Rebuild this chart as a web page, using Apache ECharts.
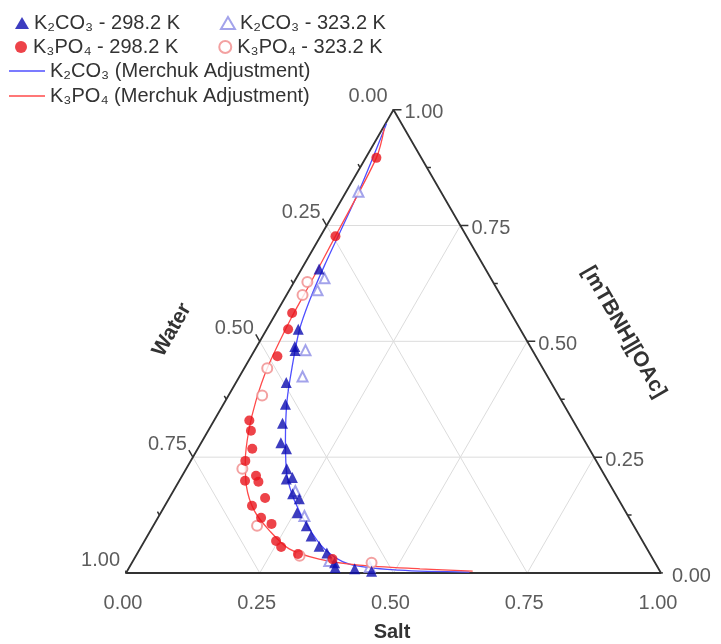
<!DOCTYPE html>
<html><head><meta charset="utf-8">
<script src="https://cdn.jsdelivr.net/npm/echarts@6/dist/echarts.min.js"></script>
<style>html,body{margin:0;padding:0;background:#fff}#c{width:721px;height:644px}</style>
</head><body><div id="c"></div>
<script>
// tick values and labels (shared by all three axes)
const tickValues = [0, 0.25, 0.5, 0.75, 1];
const tickLabels = ['0.00', '0.25', '0.50', '0.75', '1.00'];
const minorTicks = [0.125, 0.375, 0.625, 0.875];
const gridValues = [0.25, 0.5, 0.75];
const axisNames = ['Salt', '[mTBNH][OAc]', 'Water'];
const seriesNames = ['K₂CO₃ - 298.2 K', 'K₂CO₃ - 323.2 K', 'K₃PO₄ - 298.2 K', 'K₃PO₄ - 323.2 K',
  'K₂CO₃ (Merchuk Adjustment)', 'K₃PO₄ (Merchuk Adjustment)'];

// compositions as [salt mass fraction, IL mass fraction]; water = 1 - salt - IL
const k2co3_298 = [[0.033,0.656],[0.059,0.526],[0.071,0.489],[0.076,0.480],[0.094,0.411],[0.116,0.364],[0.131,0.323],[0.149,0.281],[0.166,0.268],[0.188,0.225],[0.198,0.203],[0.208,0.206],[0.226,0.171],[0.244,0.160],[0.255,0.130],[0.286,0.102],[0.306,0.080],[0.332,0.058],[0.354,0.043],[0.379,0.022],[0.385,0.012],[0.423,0.009],[0.457,0.004]];
const k2co3_323 = [[0.023,0.823],[0.053,0.636],[0.053,0.610],[0.095,0.481],[0.118,0.424],[0.228,0.177],[0.272,0.123],[0.367,0.026],[0.449,0.013]];
const k3po4_298 = [[0.020,0.896],[0.028,0.727],[0.030,0.561],[0.040,0.526],[0.049,0.468],[0.066,0.329],[0.080,0.307],[0.102,0.268],[0.102,0.242],[0.138,0.210],[0.123,0.199],[0.149,0.197],[0.179,0.162],[0.163,0.145],[0.193,0.119],[0.219,0.106],[0.246,0.069],[0.262,0.056],[0.301,0.041],[0.371,0.030]];
const k3po4_323 = [[0.025,0.628],[0.030,0.600],[0.043,0.442],[0.063,0.383],[0.105,0.225],[0.194,0.102],[0.306,0.037],[0.448,0.022]];
const k2co3_fit = [[0.002,0.970],[0.023,0.827],[0.039,0.665],[0.049,0.589],[0.062,0.524],[0.087,0.448],[0.115,0.372],[0.155,0.286],[0.196,0.210],[0.237,0.156],[0.288,0.102],[0.345,0.052],[0.408,0.019],[0.508,0.006],[0.641,0.002]];
const k3po4_fit = [[0.003,0.960],[0.020,0.896],[0.028,0.727],[0.032,0.621],[0.034,0.545],[0.043,0.442],[0.057,0.372],[0.076,0.307],[0.102,0.242],[0.131,0.188],[0.173,0.134],[0.223,0.091],[0.279,0.052],[0.346,0.030],[0.427,0.017],[0.545,0.009],[0.646,0.004]];

const H = Math.sqrt(3) / 2;
const toXY = (p) => [p[0] + p[1] / 2, p[1] * H];
const FONT = 'Liberation Sans, Arial, sans-serif';
const TXT = '#333';

// triangle frame
const frame = [[0,0],[1,0],[0,1],[0,0]].map(toXY);
// grid lines
const grid = [];
gridValues.forEach(v => {
  grid.push(toXY([0, v]), toXY([1 - v, v]), '-');        // IL constant
  grid.push(toXY([v, 0]), toXY([v, 1 - v]), '-');        // salt constant
  grid.push(toXY([1 - v, 0]), toXY([0, 1 - v]), '-');    // water constant
});
// ticks
const PX = 1 / 535;
function tickSegs(vals, len) {
  const out = [];
  vals.forEach(t => {
    let p = toXY([t, 0]); out.push(p, [p[0] - 0.5 * len, p[1] - H * len], '-');           // salt
    p = toXY([1 - t, t]); out.push(p, [p[0] + len, p[1]], '-');                          // IL
    p = toXY([0, 1 - t]); out.push(p, [p[0] - 0.5 * len, p[1] + H * len], '-');          // water
  });
  return out;
}
const ticks = tickSegs(tickValues, 8 * PX).concat(tickSegs(minorTicks, 4 * PX));

const lblBase = {fontFamily: FONT, fontSize: 20, color: TXT};
const bottomLabels = tickValues.map((t, k) => ({value: toXY([t, 0]), name: tickLabels[k]}));
const rightLabels = tickValues.map((t, k) => ({value: toXY([1 - t, t]), name: tickLabels[k]}));
const leftLabels = tickValues.map((t, k) => ({value: toXY([0, 1 - t]), name: tickLabels[k]}));

const lineBase = {type: 'line', symbol: 'none', silent: true, animation: false, connectNulls: false};
const labelSeries = (data, label) => ({
  type: 'scatter', data, symbolSize: 0, silent: true, animation: false,
  label: Object.assign({show: true, formatter: p => p.name}, lblBase, label)
});

const chart = echarts.init(document.getElementById('c'), null, {renderer: 'canvas'});
const legendText = {fontFamily: FONT, fontSize: 20, color: TXT};
chart.setOption({
  animation: false,
  backgroundColor: '#fff',
  grid: {left: 126, top: 573 - 535 * H, width: 535, height: 535 * H},
  xAxis: {type: 'value', min: 0, max: 1, show: false},
  yAxis: {type: 'value', min: 0, max: H, show: false},
  legend: [
    {data: [seriesNames[0], seriesNames[1]], left: 10, top: 8, itemWidth: 14, itemHeight: 12, itemGap: 40, textStyle: legendText},
    {data: [seriesNames[2], seriesNames[3]], left: 10, top: 32, itemWidth: 14, itemHeight: 12, itemGap: 40, textStyle: legendText},
    {data: [{name: seriesNames[4], icon: 'rect'}], left: 4, top: 56, itemWidth: 36, itemHeight: 1.5, itemGap: 6, textStyle: legendText},
    {data: [{name: seriesNames[5], icon: 'rect'}], left: 4, top: 81, itemWidth: 36, itemHeight: 1.5, itemGap: 6, textStyle: legendText}
  ],
  graphic: [
    {type: 'text', x: 392, y: 632, style: {text: axisNames[0], font: 'bold 20px ' + FONT, fill: TXT, align: 'center', verticalAlign: 'middle'}},
    {type: 'text', x: 624, y: 332, rotation: -Math.PI / 3, style: {text: axisNames[1], font: 'bold 21px ' + FONT, fill: TXT, align: 'center', verticalAlign: 'middle'}},
    {type: 'text', x: 172, y: 330, rotation: Math.PI / 3, style: {text: axisNames[2], font: 'bold 21px ' + FONT, fill: TXT, align: 'center', verticalAlign: 'middle'}}
  ],
  series: [
    Object.assign({}, lineBase, {data: grid, lineStyle: {color: '#dcdcdc', width: 1}}),
    Object.assign({}, lineBase, {data: ticks, lineStyle: {color: '#333', width: 1.5}}),
    Object.assign({}, lineBase, {data: frame, lineStyle: {color: '#333', width: 1.8}}),
    labelSeries(bottomLabels, {position: 'bottom', distance: 20, offset: [-3, 0]}),
    labelSeries(rightLabels, {position: 'right', distance: 11, offset: [0, 3]}),
    labelSeries(leftLabels, {position: 'left', distance: 6, offset: [0, -13]}),
    {name: seriesNames[4], type: 'line', data: k2co3_fit.map(toXY), symbol: 'none', smooth: 0.3, lineStyle: {color: '#4f4fff', width: 1.3}, itemStyle: {color: '#4f4fff'}, z: 3},
    {name: seriesNames[5], type: 'line', data: k3po4_fit.map(toXY), symbol: 'none', smooth: 0.3, lineStyle: {color: '#ff4a4a', width: 1.3}, itemStyle: {color: '#ff4a4a'}, z: 3},
    {name: seriesNames[1], type: 'scatter', data: k2co3_323.map(toXY), symbol: 'emptyTriangle', symbolSize: 10, itemStyle: {color: '#8c8ce6', borderWidth: 1.3}, z: 4},
    {name: seriesNames[3], type: 'scatter', data: k3po4_323.map(toXY), symbol: 'emptyCircle', symbolSize: 10, itemStyle: {color: '#f08a8a', borderWidth: 1.3}, z: 4},
    {name: seriesNames[0], type: 'scatter', data: k2co3_298.map(toXY), symbol: 'triangle', symbolSize: 11, itemStyle: {color: '#0c0cb0'}, z: 5},
    {name: seriesNames[2], type: 'scatter', data: k3po4_298.map(toXY), symbol: 'circle', symbolSize: 10, itemStyle: {color: '#e8141c'}, z: 5}
  ]
});
</script>
</body></html>
